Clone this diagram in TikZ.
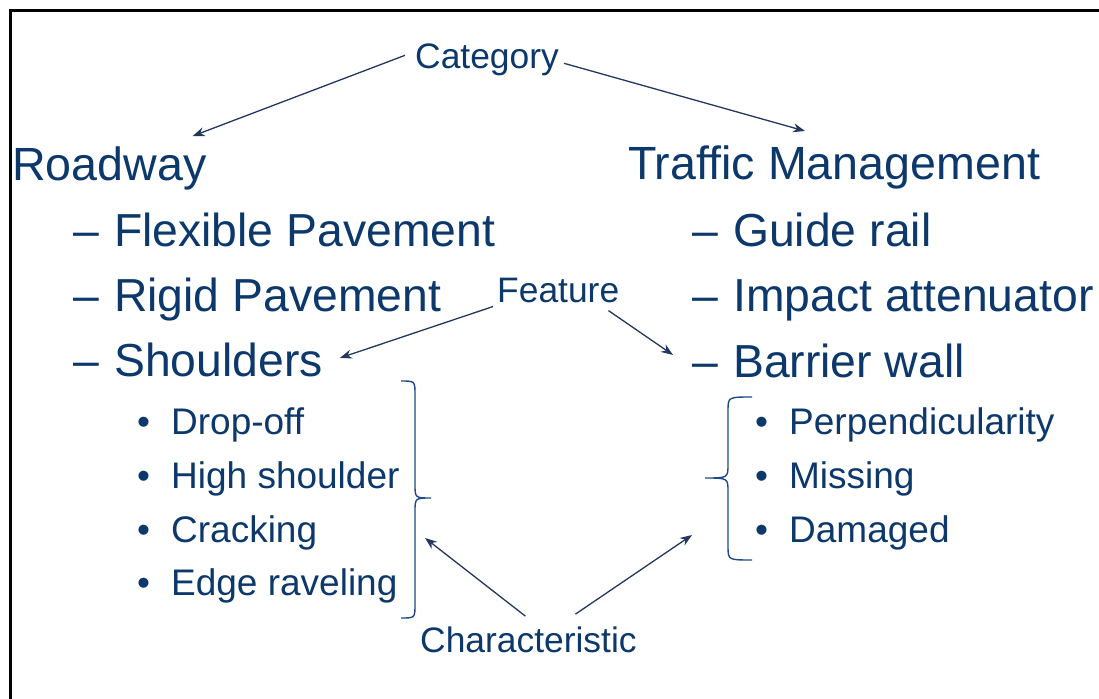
\documentclass[tikz,border=0pt]{standalone}
\usepackage{fontspec}
\setmainfont{Liberation Sans}
\usetikzlibrary{arrows.meta}
\definecolor{navy}{RGB}{12,56,108}
\definecolor{arrowc}{RGB}{35,55,95}
\definecolor{bracec}{RGB}{30,75,135}
\newcommand{\dsh}[1]{\makebox[41pt][l]{–}#1}
\newcommand{\bul}[1]{\makebox[34pt][l]{•}#1}
\begin{document}
\begin{tikzpicture}[x=1pt,y=-1pt,
  txt/.style={inner sep=0pt, anchor=base west, text=navy},
  head/.style={txt, font=\fontsize{46.6}{50}\selectfont},
  subitem/.style={txt, font=\fontsize{46.3}{50}\selectfont},
  bitem/.style={txt, font=\fontsize{37}{40}\selectfont},
  lbl/.style={txt, font=\fontsize{35.4}{38}\selectfont},
  conn/.style={draw=arrowc, line width=1.3pt, -{Stealth[length=12pt,width=9pt]}},
  bracestyle/.style={draw=bracec, line width=1.4pt}]
\fill[white] (0,0) rectangle (1099,698);
\useasboundingbox (0,0) rectangle (1099,698);
\draw[line width=3pt] (10,720) -- (10,10.5) -- (1120,10.5);

% labels
\node[lbl] (cat) at (415,69) {Category};
\node[lbl] (feat) at (497,302) {Feature};
\node[lbl] (charac) at (420,652) {Characteristic};

% left column
\node[head] (road) at (12,180) {Roadway};
\node[subitem] (flex) at (73,246) {\dsh{Flexible Pavement}};
\node[subitem] (rigid) at (73,311) {\dsh{Rigid Pavement}};
\node[subitem] (shoulders) at (73,376) {\dsh{Shoulders}};
\node[bitem] (drop) at (137,434) {\bul{Drop-off}};
\node[bitem] (high) at (137,488) {\bul{High shoulder}};
\node[bitem] (crack) at (137,542) {\bul{Cracking}};
\node[bitem] (edge) at (137,595) {\bul{Edge raveling}};

% right column
\node[head] (traffic) at (628,179) {Traffic Management};
\node[subitem] (guide) at (692,246) {\dsh{Guide rail}};
\node[subitem] (impact) at (692,311) {\dsh{Impact attenuator}};
\node[subitem] (barrier) at (692,377) {\dsh{Barrier wall}};
\node[bitem] (perp) at (755,434) {\bul{Perpendicularity}};
\node[bitem] (missing) at (755,488) {\bul{Missing}};
\node[bitem] (damaged) at (755,542) {\bul{Damaged}};

% braces
\draw[bracestyle] (401,381) .. controls (415,381) .. (415,395) -- (415,484)
  .. controls (415,498) .. (431,498) .. controls (415,498) .. (415,512)
  -- (415,604) .. controls (415,618) .. (401,618);
\draw[bracestyle] (752,397) .. controls (728,397) .. (728,411) -- (728,464)
  .. controls (728,478) .. (705,478) .. controls (728,478) .. (728,492)
  -- (728,546) .. controls (728,560) .. (752,560);
\coordinate (lbrace) at (425,538);
\coordinate (rbrace) at (692,535);

% connectors
\draw[conn] ([xshift=-10pt,yshift=5pt]cat.west) -- ([xshift=-14pt,yshift=10pt]road.north east);
\draw[conn] ([xshift=5pt,yshift=-3pt]cat.east) -- ([xshift=177pt,yshift=14pt]traffic.north west);
\draw[conn] ([xshift=-4pt,yshift=-4pt]feat.south west) -- ([xshift=17pt,yshift=1.5pt]shoulders.east);
\draw[conn] ([xshift=-11pt,yshift=-8pt]feat.south east) -- ([xshift=-19pt,yshift=5.5pt]barrier.west);
\draw[conn] ([xshift=-3pt,yshift=10pt]charac.north) -- (lbrace);
\draw[conn] ([xshift=47pt,yshift=12pt]charac.north) -- (rbrace);
\end{tikzpicture}
\end{document}
